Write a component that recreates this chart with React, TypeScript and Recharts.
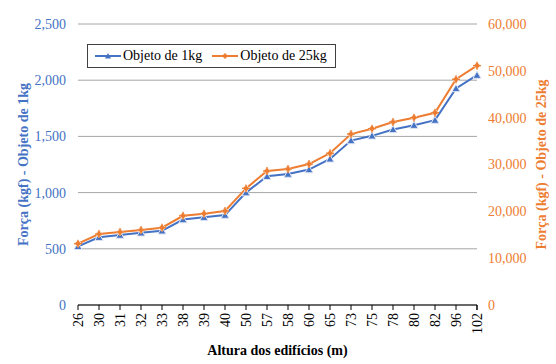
import React from "react";
import {
  LineChart,
  Line,
  XAxis,
  YAxis,
  CartesianGrid,
  Legend,
  Label,
} from "recharts";

const heights = ["26", "30", "31", "32", "33", "38", "39", "40", "50", "57", "58", "60", "65", "73", "75", "78", "80", "82", "96", "102"];
const force1kg = [522, 603, 622, 642, 660, 760, 781, 800, 1000, 1145, 1165, 1205, 1300, 1463, 1505, 1562, 1600, 1645, 1927, 2045];
const force25kg = [13100, 15150, 15580, 16020, 16500, 19050, 19500, 20070, 24900, 28600, 29050, 30100, 32400, 36500, 37650, 39070, 40000, 41050, 48200, 51100];
const leftTicks = [0, 500, 1000, 1500, 2000, 2500];
const rightTicks = [0, 10000, 20000, 30000, 40000, 50000, 60000];
const seriesNames = ["Objeto de 1kg", "Objeto de 25kg"];

const BLUE = "#4472C4";
const ORANGE = "#ED7D31";
const FONT = '"Liberation Serif", "Times New Roman", serif';

const data = heights.map((h, i) => ({
  h,
  a: force1kg[i],
  b: force25kg[i],
}));

const fmt = (v: number) => v.toLocaleString("en-US");

const TriangleDot = (props: any) => {
  const { cx, cy } = props;
  if (cx == null || cy == null) return null;
  const s = 4;
  return (
    <path
      d={`M${cx},${cy - s} L${cx + s},${cy + s * 0.8} L${cx - s},${cy + s * 0.8} Z`}
      fill={BLUE}
      stroke="#dfe4f2"
      strokeWidth={1}
    />
  );
};

const StarDot = (props: any) => {
  const { cx, cy } = props;
  if (cx == null || cy == null) return null;
  const s = 3.5;
  return (
    <g>
      <path
        d={`M${cx},${cy - s} L${cx + s},${cy} L${cx},${cy + s} L${cx - s},${cy} Z`}
        fill={ORANGE}
        stroke="#f6dcc8"
        strokeWidth={1}
      />
      <line x1={cx - s - 0.5} y1={cy} x2={cx + s + 0.5} y2={cy} stroke={ORANGE} strokeWidth={1.2} />
      <line x1={cx} y1={cy - s - 0.5} x2={cx} y2={cy + s + 0.5} stroke={ORANGE} strokeWidth={1.2} />
    </g>
  );
};

const XTick = (props: any) => {
  const { x, y, payload, index, visibleTicksCount } = props;
  const off = payload && payload.offset != null ? payload.offset : 10;
  const isLast = index === (visibleTicksCount ?? heights.length) - 1;
  return (
    <g transform={`translate(${x},${y})`}>
      <line x1={-off} y1={0} x2={-off} y2={5} stroke="#000" strokeWidth={1} />
      {isLast && <line x1={off} y1={0} x2={off} y2={5} stroke="#000" strokeWidth={1} />}
      <text
        transform="rotate(-90)"
        x={-8}
        y={0}
        dy="0.35em"
        textAnchor="end"
        fill="#000"
        fontFamily={FONT}
        fontSize={14}
        style={{ fontFamily: FONT, fontSize: 14 }}
      >
        {payload.value}
      </text>
    </g>
  );
};

const LegendContent = () => {
  const items = [
    { name: seriesNames[0], color: BLUE, marker: "tri" },
    { name: seriesNames[1], color: ORANGE, marker: "star" },
  ];
  return (
    <div
      style={{
        display: "flex",
        alignItems: "center",
        border: "1px solid #404040",
        background: "#fff",
        height: 24,
        boxSizing: "border-box",
        paddingLeft: 7,
        fontFamily: FONT,
        fontSize: 14,
        color: "#000",
        whiteSpace: "nowrap",
      }}
    >
      {items.map((it, i) => (
        <div key={it.name} style={{ display: "flex", alignItems: "center", marginRight: i === 0 ? 10 : 0 }}>
          <svg width={26} height={10} style={{ marginRight: 2 }}>
            <line x1={0} y1={5} x2={26} y2={5} stroke={it.color} strokeWidth={2} />
            {it.marker === "tri" ? (
              <path d="M13,2 L16,7.5 L10,7.5 Z" fill={it.color} />
            ) : (
              <path d="M13,2 L16,5 L13,8 L10,5 Z" fill={it.color} />
            )}
          </svg>
          <span>{it.name}</span>
        </div>
      ))}
    </div>
  );
};

const labelStyle = (color: string) => ({ fontFamily: FONT, fontSize: 14, fontWeight: "bold" as const, fill: color });

export default function App() {
  return (
    <div style={{ position: "absolute", left: 0, top: 0, width: 556, height: 364, background: "#fff", fontFamily: FONT }}>
      <style>{`.recharts-wrapper svg text, .recharts-wrapper svg tspan { font-family: "Liberation Serif", "Times New Roman", serif !important; }`}</style>
      <LineChart
        width={556}
        height={364}
        data={data}
        margin={{ top: 24, right: 0, bottom: 0, left: 0 }}
        style={{ fontFamily: FONT }}
      >
        <CartesianGrid yAxisId="left" vertical={false} stroke="#a6a6a6" strokeWidth={1} />
        <XAxis
          dataKey="h"
          height={59}
          interval={0}
          tick={<XTick />}
          tickLine={false}
          tickSize={0}
          tickMargin={0}
          axisLine={{ stroke: "#000", strokeWidth: 1.2 }}
        >
          <Label
            value="Altura dos edifícios (m)"
            position="insideBottom"
            offset={9}
            fill="#000"
            fontFamily={FONT}
            fontWeight="bold"
            fontSize={14}
            style={labelStyle("#000")}
          />
        </XAxis>
        <YAxis
          yAxisId="left"
          orientation="left"
          width={78}
          domain={[0, 2500]}
          ticks={leftTicks}
          tickFormatter={fmt}
          axisLine={false}
          tickLine={false}
          tickSize={10}
          tickMargin={2}
          tick={{ fill: BLUE, fontSize: 14, fontFamily: FONT }}
        >
          <Label
            value="Força (kgf) - Objeto de 1kg"
            angle={-90}
            position="center"
            dx={-16}
            fill={BLUE}
            fontFamily={FONT}
            fontWeight="bold"
            fontSize={14}
            style={labelStyle(BLUE)}
          />
        </YAxis>
        <YAxis
          yAxisId="right"
          orientation="right"
          width={79}
          domain={[0, 60000]}
          ticks={rightTicks}
          tickFormatter={fmt}
          axisLine={false}
          tickLine={false}
          tickSize={9}
          tickMargin={2}
          tick={{ fill: ORANGE, fontSize: 14, fontFamily: FONT }}
        >
          <Label
            value="Força (kgf) - Objeto de 25kg"
            angle={-90}
            position="center"
            dx={25}
            fill={ORANGE}
            fontFamily={FONT}
            fontWeight="bold"
            fontSize={14}
            style={labelStyle(ORANGE)}
          />
        </YAxis>
        <Legend
          verticalAlign="middle"
          align="center"
          layout="horizontal"
          content={<LegendContent />}
          wrapperStyle={{ left: 87, top: 44, width: 249 }}
        />
        <Line
          yAxisId="left"
          type="linear"
          dataKey="a"
          name={seriesNames[0]}
          stroke={BLUE}
          strokeWidth={2}
          dot={<TriangleDot />}
          isAnimationActive={false}
        />
        <Line
          yAxisId="right"
          type="linear"
          dataKey="b"
          name={seriesNames[1]}
          stroke={ORANGE}
          strokeWidth={2}
          dot={<StarDot />}
          isAnimationActive={false}
        />
      </LineChart>
    </div>
  );
}
